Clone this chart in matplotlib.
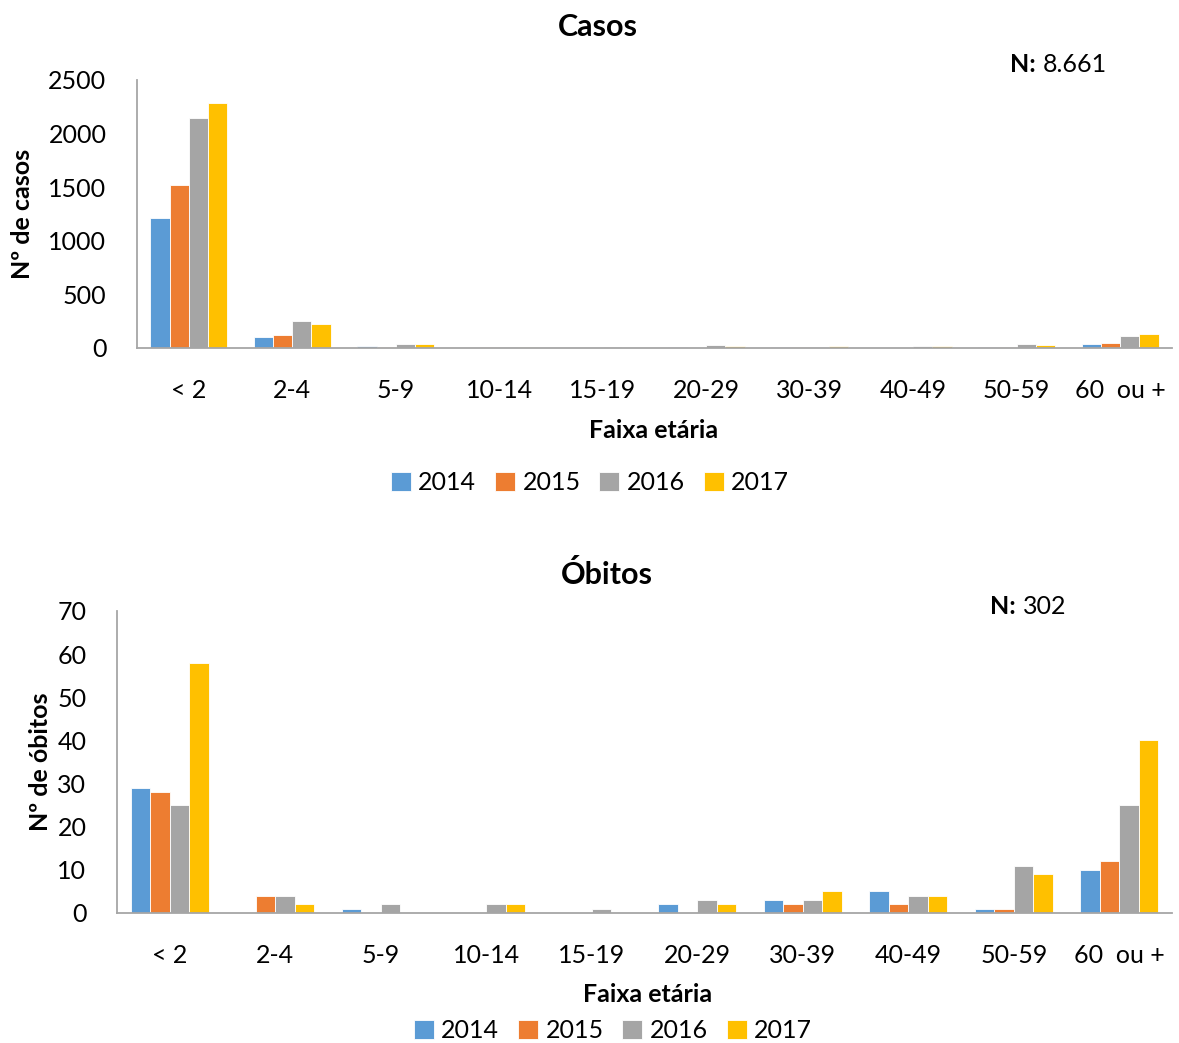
import matplotlib
matplotlib.use("Agg")
import matplotlib.pyplot as plt
import numpy as np

plt.rcParams['font.family'] = ['Lato', 'DejaVu Sans']

faixas = ["< 2", "2-4", "5-9", "10-14", "15-19", "20-29", "30-39", "40-49", "50-59", "60  ou +"]
anos = ["2014", "2015", "2016", "2017"]
cores = ["#5B9BD5", "#ED7D31", "#A5A5A5", "#FFC000"]

casos_2014 = [1210, 100, 15, 2, 1, 5, 5, 3, 7, 40]
casos_2015 = [1520, 121, 5, 5, 1, 3, 7, 2, 7, 47]
casos_2016 = [2150, 252, 37, 8, 5, 28, 10, 20, 35, 112]
casos_2017 = [2290, 221, 40, 10, 3, 17, 22, 15, 25, 131]

obitos_2014 = [29, 0, 1, 0, 0, 2, 3, 5, 1, 10]
obitos_2015 = [28, 4, 0, 0, 0, 0, 2, 2, 1, 12]
obitos_2016 = [25, 4, 2, 2, 1, 3, 3, 4, 11, 25]
obitos_2017 = [58, 2, 0, 2, 0, 2, 5, 4, 9, 40]

total_casos = "8.661"
total_obitos = "302"

fig = plt.figure(figsize=(11.79, 10.43), dpi=100)
W, H = 1179, 1043
FS = 18


def painel(rect, series, ymax, ystep, titulo, ylabel, total, title_xy, n_xy,
           xlabel_xy, legend_xy, ylabel_pad):
    l, t, r, b = rect
    ax = fig.add_axes([l / W, 1 - b / H, (r - l) / W, (b - t) / H])
    x = np.arange(len(faixas))
    bw = 0.185
    for i, (vals, cor, ano) in enumerate(zip(series, cores, anos)):
        ax.bar(x + (i - 1.5) * bw, vals, width=bw, color=cor, label=ano,
               edgecolor="white", linewidth=0.6)
    ax.set_xlim(-0.5, len(faixas) - 0.5)
    ax.set_ylim(0, ymax)
    ax.set_yticks(np.arange(0, ymax + 1, ystep))
    ax.set_xticks(x)
    ax.set_xticklabels(faixas)
    ax.tick_params(axis="both", length=0, labelsize=FS, colors="black")
    ax.tick_params(axis="x", pad=22)
    ax.tick_params(axis="y", pad=22)
    for s in ("top", "right"):
        ax.spines[s].set_visible(False)
    for s in ("left", "bottom"):
        ax.spines[s].set_color("#A6A6A6")
        ax.spines[s].set_linewidth(1.3)
    ax.set_ylabel(ylabel, fontsize=FS, fontweight="bold", labelpad=ylabel_pad)
    fig.text(title_xy[0] / W, 1 - title_xy[1] / H, titulo, ha="center", va="center",
             fontsize=22, fontweight="bold")
    fig.text(n_xy[0] / W, 1 - n_xy[1] / H, "N:", ha="left", va="center",
             fontsize=FS, fontweight="bold")
    fig.text((n_xy[0] + 33) / W, 1 - n_xy[1] / H, total, ha="left", va="center",
             fontsize=FS)
    fig.text(xlabel_xy[0] / W, 1 - xlabel_xy[1] / H, "Faixa etária", ha="center",
             va="center", fontsize=FS, fontweight="bold")
    fig.legend(*ax.get_legend_handles_labels(), loc="center", ncol=4,
               bbox_to_anchor=(legend_xy[0] / W, 1 - legend_xy[1] / H), frameon=False,
               fontsize=FS, handlelength=0.8, handleheight=0.8, handletextpad=0.3,
               columnspacing=0.75)
    return ax


painel((137, 80, 1172, 348), [casos_2014, casos_2015, casos_2016, casos_2017],
       2500, 500, "Casos", "Nº de casos", total_casos,
       (598, 27), (1010, 64), (654, 430), (590, 483), 10)
painel((117, 611, 1172, 913), [obitos_2014, obitos_2015, obitos_2016, obitos_2017],
       70, 10, "Óbitos", "Nº de óbitos", total_obitos,
       (607, 575), (990, 607), (648, 995), (613, 1031), 4)

fig.savefig("out.png", dpi=100)
